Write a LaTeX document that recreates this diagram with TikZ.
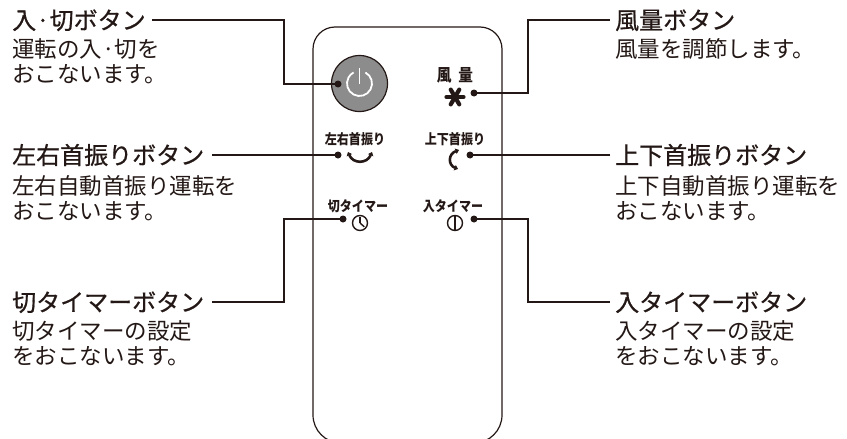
\documentclass[tikz,border=0pt]{standalone}
\usepackage{fontspec}
\newfontfamily\jp{Noto Sans CJK JP}
\newfontfamily\jpt{Noto Sans CJK JP}[FakeBold=0.7]
\newfontfamily\jps{Noto Sans CJK JP}[FakeStretch=0.86]
\usetikzlibrary{arrows.meta}
\definecolor{ink}{HTML}{231815}
\definecolor{btn}{HTML}{8C8C8C}
\begin{document}
\begin{tikzpicture}[x=1pt,y=-1pt,
  title/.style={font=\jpt\fontsize{24}{24}\selectfont, text=ink, inner sep=0pt, text height=20pt, text depth=1.7pt},
  body/.style={font=\jp\fontsize{22.5}{22.5}\selectfont, text=ink, inner sep=0pt, text height=18.6pt, text depth=1.6pt},
  small/.style={font=\jps\bfseries\fontsize{14}{14}\selectfont, text=ink, inner sep=0pt},
  dot/.style={circle, fill=ink, inner sep=0pt, minimum size=7pt},
  conn/.style={draw=ink, line width=2.6pt},
  outline/.style={draw=ink, line width=1.2pt},
  icon/.style={draw=ink, line width=1.4pt},
  swing/.style={draw=ink, line width=2.6pt, {Triangle[length=3.5pt,width=5.5pt]}-{Triangle[length=3.5pt,width=5.5pt]}},
]
\useasboundingbox (0,0) rectangle (847,439);
% remote body
\begin{scope}
\clip (0,0) rectangle (847,439);
\draw[outline] (407,27) [rounded corners=22pt] -- (313,27) -- (313,250) [rounded corners=28pt] -- (313,443) -- (502,443) -- (502,250) [rounded corners=22pt] -- (502,27) -- cycle;
\end{scope}
% power button
\node[circle, draw=ink, line width=1.2pt, fill=btn, minimum size=56pt, inner sep=0pt] (pwr) at (359.5,83.5) {};
\draw[white, line width=1.8pt] (pwr.center) ++(-62:12.5) arc[start angle=-62, end angle=242, radius=12.5];
\draw[white, line width=1.8pt] (pwr.center) -- ++(0,-16);
% labels on the remote
\node[small, font=\jps\bfseries\fontsize{17}{17}\selectfont] (lfan) at (455,75) {風\hspace{7pt}量};
\node[small] (llr) at (355,139) {左右首振り};
\node[small] (lud) at (455,139) {上下首振り};
\node[small] (lkt) at (358,206) {切タイマー};
\node[small] (lit) at (453,206) {入タイマー};
% icons
\foreach \a in {0,60,120} \draw[ink, line width=4.2pt, line cap=round] (455,97) ++(\a:8.5) -- ++(\a+180:17);
\draw[swing] (348,152) .. controls (353,164) and (367,164) .. (372,152);
\draw[swing] (459,150) .. controls (448,154) and (448,165) .. (458,169);
\node[circle, icon, minimum size=15pt, inner sep=0pt] (clk) at (360,223) {};
\draw[icon] (clk.center) -- ++(0,-6);
\draw[icon] (clk.center) -- ++(4.3,3.8);
\node[circle, icon, minimum size=15pt, inner sep=0pt] (onk) at (455,223) {};
\draw[icon] (onk.north) -- (onk.south);
% dots
\node[dot] (d1) at (338,84) {};
\node[dot] (d2) at (338,155) {};
\node[dot] (d3) at (343,219) {};
\node[dot] (d4) at (474,93) {};
\node[dot] (d5) at (470,155) {};
\node[dot] (d6) at (474,219) {};
% left labels
\node[title, anchor=west] (t1) at (12,20) {入·切ボタン};
\node[body, anchor=west] (t1a) at (12,49) {運転の入·切を};
\node[body, anchor=west] (t1b) at (12,74) {おこないます。};
\node[title, anchor=west] (t2) at (12,155) {左右首振りボタン};
\node[body, anchor=west] (t2a) at (12,186) {左右自動首振り運転を};
\node[body, anchor=west] (t2b) at (12,211) {おこないます。};
\node[title, anchor=west] (t3) at (12,302) {切タイマーボタン};
\node[body, anchor=west] (t3a) at (12,331) {切タイマーの設定};
\node[body, anchor=west] (t3b) at (12,356) {をおこないます。};
% right labels
\node[title, anchor=west] (t4) at (615,20) {風量ボタン};
\node[body, anchor=west] (t4a) at (615,49) {風量を調節します。};
\node[title, anchor=west] (t5) at (615,155) {上下首振りボタン};
\node[body, anchor=west] (t5a) at (615,186) {上下自動首振り運転を};
\node[body, anchor=west] (t5b) at (615,211) {おこないます。};
\node[title, anchor=west] (t6) at (615,302) {入タイマーボタン};
\node[body, anchor=west] (t6a) at (615,331) {入タイマーの設定};
\node[body, anchor=west] (t6b) at (615,356) {をおこないます。};
% connectors
\coordinate (b1) at (284,84);
\coordinate (b3) at (284,219);
\coordinate (b4) at (528,93);
\coordinate (b6) at (528,219);
\draw[conn] ([xshift=6pt]t1.east) -| (b1) -- (d1.center);
\draw[conn] ([xshift=8pt]t2.east) -- (d2.center);
\draw[conn] ([xshift=8pt]t3.east) -| (b3) -- (d3.center);
\draw[conn] ([xshift=-5pt]t4.west) -| (b4) -- (d4.center);
\draw[conn] ([xshift=-5pt]t5.west) -- (d5.center);
\draw[conn] ([xshift=-5pt]t6.west) -| (b6) -- (d6.center);
\end{tikzpicture}
\end{document}
